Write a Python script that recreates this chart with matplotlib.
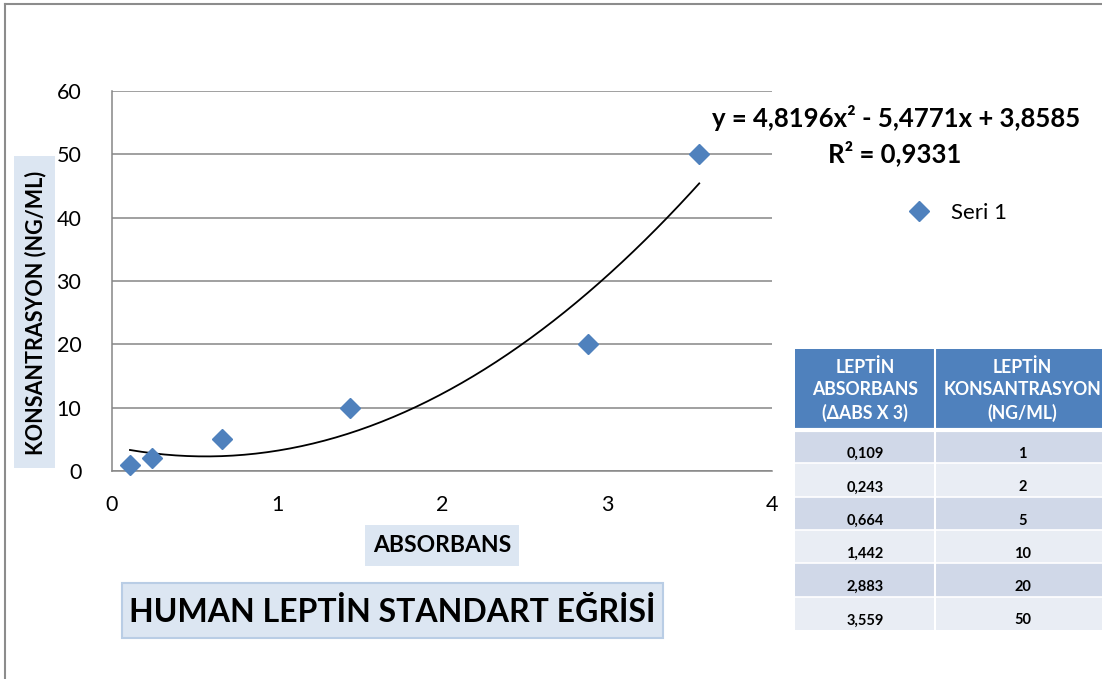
import matplotlib
matplotlib.use('Agg')
import matplotlib.pyplot as plt
import numpy as np
from matplotlib.patches import Rectangle
from matplotlib.lines import Line2D

plt.rcParams['font.family'] = ['Lato', 'DejaVu Sans']

# data
absorbans = [0.109, 0.243, 0.664, 1.442, 2.883, 3.559]
konsantrasyon = [1, 2, 5, 10, 20, 50]
abs_labels = ['0,109', '0,243', '0,664', '1,442', '2,883', '3,559']
kons_labels = ['1', '2', '5', '10', '20', '50']
fit_coef = [4.8196, -5.4771, 3.8585]
r_squared = '0,9331'
x_ticks = [0, 1, 2, 3, 4]
y_ticks = [0, 10, 20, 30, 40, 50, 60]

W, H = 1102, 679
blue = '#4F81BD'
grid_gray = '#868686'
box_blue = '#DCE6F2'


def fx(px):
	return px / W


def fy(py):
	return 1 - py / H


fig = plt.figure(figsize=(W / 100, H / 100), dpi=100)
fig.patch.set_facecolor('white')

# outer frame
fig.add_artist(Line2D([fx(5), fx(5)], [fy(4), 0], transform=fig.transFigure, color='#8C8C8C', lw=1.5))
fig.add_artist(Line2D([fx(5), 1], [fy(4), fy(4)], transform=fig.transFigure, color='#8C8C8C', lw=1.5))

ax = fig.add_axes([fx(112), fy(471), fx(772) - fx(112), fy(91) - fy(471)])
ax.set_xlim(0, 4)
ax.set_ylim(0, 60)
ax.set_xticks(x_ticks)
ax.set_yticks(y_ticks)
ax.tick_params(length=0, labelsize=15.5, pad=17)
ax.tick_params(axis='y', pad=22)
ax.yaxis.grid(True, color=grid_gray, lw=1.1)
ax.set_axisbelow(True)
for side in ['top', 'right']:
	ax.spines[side].set_visible(False)
for side in ['left', 'bottom']:
	ax.spines[side].set_color(grid_gray)
	ax.spines[side].set_linewidth(1.1)

xs = np.linspace(min(absorbans), max(absorbans), 200)
ax.plot(xs, np.polyval(fit_coef, xs), color='black', lw=1.3, zorder=2)
pts, = ax.plot(absorbans, konsantrasyon, 'D', color=blue, ms=10, lw=0, clip_on=False, zorder=3, label='Seri 1')

fig.legend(handles=[pts], loc='center left', bbox_to_anchor=(fx(909), fy(213)),
	frameon=False, fontsize=16, handlelength=0.9, handletextpad=1.0, borderpad=0, borderaxespad=0)

eq = 'y = {}x² - {}x + {}'.format(
	str(fit_coef[0]).replace('.', ','), str(-fit_coef[1]).replace('.', ','), str(fit_coef[2]).replace('.', ','))
fig.text(fx(896), fy(118), eq, ha='center', va='center', fontsize=18.5, fontweight='bold')
fig.text(fx(895), fy(153), 'R² = ' + r_squared, ha='center', va='center', fontsize=18.5, fontweight='bold')

# axis label boxes
fig.add_artist(Rectangle((fx(14), fy(468)), fx(55) - fx(14), fy(156) - fy(468), transform=fig.transFigure,
	facecolor=box_blue, edgecolor='none'))
fig.text(fx(36), fy(313), 'KONSANTRASYON (NG/ML)', rotation=90, ha='center', va='center',
	fontsize=15.5, fontweight='bold')

fig.add_artist(Rectangle((fx(365), fy(566)), fx(519) - fx(365), fy(525) - fy(566), transform=fig.transFigure,
	facecolor=box_blue, edgecolor='none'))
fig.text(fx(442), fy(546), 'ABSORBANS', ha='center', va='center', fontsize=16.5, fontweight='bold')

fig.add_artist(Rectangle((fx(122), fy(638)), fx(663) - fx(122), fy(583) - fy(638), transform=fig.transFigure,
	facecolor=box_blue, edgecolor='#B9CDE5', lw=1.5))
fig.text(fx(392), fy(612), 'HUMAN LEPTİN STANDART EĞRİSİ', ha='center', va='center', fontsize=23, fontweight='bold')

# table
col_edges = [795, 935, 1110]
fig.add_artist(Rectangle((fx(795), fy(430)), fx(1110) - fx(795), fy(349) - fy(430), transform=fig.transFigure,
	facecolor=blue, edgecolor='none'))
headers = ['LEPTİN\nABSORBANS\n(ΔABS X 3)', 'LEPTİN\nKONSANTRASYON\n(NG/ML)']
for i, h in enumerate(headers):
	cx = (col_edges[i] + col_edges[i + 1]) / 2
	fig.text(fx(cx), fy(390), h, ha='center', va='center', color='white', fontsize=12.7,
		fontweight='bold', linespacing=1.4)
row_top = 430
row_h = 33.3
for r in range(len(abs_labels)):
	y0 = row_top + r * row_h
	fig.add_artist(Rectangle((fx(795), fy(y0 + row_h)), fx(1110) - fx(795), fy(y0) - fy(y0 + row_h),
		transform=fig.transFigure, facecolor='#D0D8E8' if r % 2 == 0 else '#E9EDF4', edgecolor='none'))
	for i, t in enumerate([abs_labels[r], kons_labels[r]]):
		cx = (col_edges[i] + col_edges[i + 1]) / 2
		fig.text(fx(cx), fy(y0 + 24), t, ha='center', va='center', fontsize=10.5, fontweight='bold')
	fig.add_artist(Line2D([fx(795), fx(1110)], [fy(y0), fy(y0)], transform=fig.transFigure, color='white', lw=1.2))
fig.add_artist(Line2D([fx(795), fx(1110)], [fy(430), fy(430)], transform=fig.transFigure, color='white', lw=3))
fig.add_artist(Line2D([fx(935), fx(935)], [fy(349), fy(630)], transform=fig.transFigure, color='white', lw=1.5))

fig.savefig('out.png', dpi=100)
